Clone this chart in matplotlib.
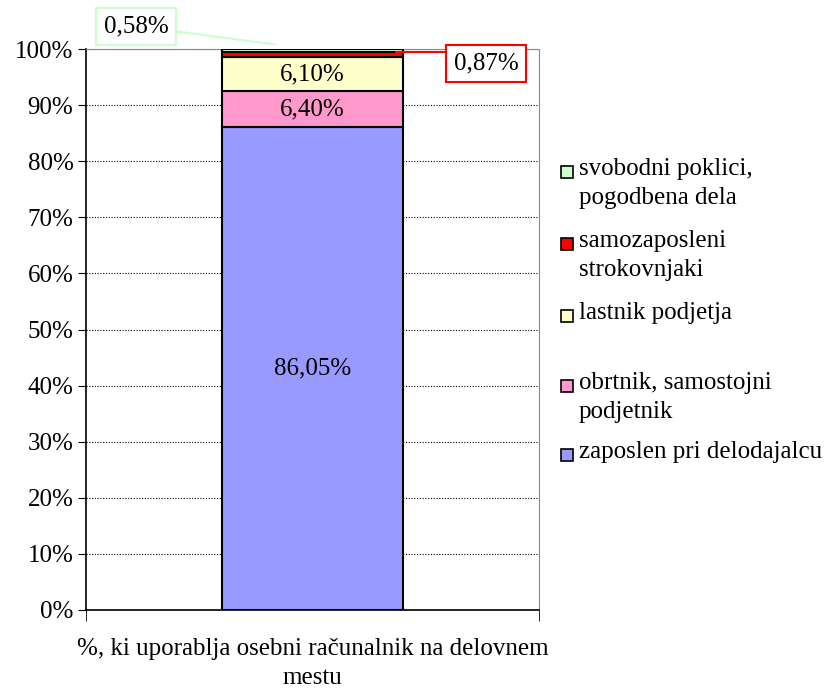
import matplotlib.pyplot as plt
from matplotlib.patches import Rectangle

plt.rcParams['font.family'] = ['Liberation Serif', 'DejaVu Serif']

# data (stack from bottom to top)
categories = ['zaposlen pri delodajalcu', 'obrtnik, samostojni\npodjetnik',
              'lastnik podjetja', 'samozaposleni\nstrokovnjaki',
              'svobodni poklici,\npogodbena dela']
values = [86.05, 6.40, 6.10, 0.87, 0.58]
labels = ['86,05%', '6,40%', '6,10%', '0,87%', '0,58%']
colors = ['#9999FF', '#FF99CC', '#FFFFCC', '#FF0000', '#CCFFCC']
xlabel = '%, ki uporablja osebni računalnik na delovnem\nmestu'

FS = 18
fig = plt.figure(figsize=(8.29, 6.91), dpi=100)
ax = fig.add_axes([86 / 829, 81 / 691, 453 / 829, 561 / 691])

bottom = 0
for v, c in zip(values, colors):
    ax.bar(0, v, width=0.4, bottom=bottom, color=c, edgecolor='black',
           linewidth=1.5, zorder=3)
    bottom += v

# labels inside the big segments
bottom = 0
for i, v in enumerate(values):
    if i < 3:
        ax.text(0, bottom + v / 2, labels[i], ha='center', va='center',
                fontsize=FS, zorder=4)
    bottom += v

ax.set_xlim(-0.5, 0.5)
ax.set_ylim(0, 100)
ax.set_yticks(range(0, 101, 10))
ax.set_yticklabels([f'{t}%' for t in range(0, 101, 10)], fontsize=FS)
ax.yaxis.grid(True, linestyle=(0, (1, 1.5)), color='black', linewidth=0.8, zorder=0)
ax.set_xticks([0])
ax.set_xticklabels([xlabel], fontsize=FS, linespacing=1.45)
ax.tick_params(axis='x', length=0, pad=20)
ax.set_xticks([-0.5, 0.5], minor=True)
ax.tick_params(axis='x', which='minor', length=8, direction='out')
ax.tick_params(axis='y', length=6, direction='out', pad=3)

for s in ['top', 'right']:
    ax.spines[s].set_color('#888888')
for s in ['left', 'bottom']:
    ax.spines[s].set_linewidth(1.2)

# callout for 0,58%
top_58 = sum(values)
ax.annotate(labels[4], xy=(-0.083, top_58 + 0.8), xycoords='data',
            xytext=(136 / 829, 665 / 691), textcoords='figure fraction',
            ha='center', va='center', fontsize=FS,
            bbox=dict(boxstyle='square,pad=0.3', fc='white', ec='#CCFFCC', lw=1.5),
            arrowprops=dict(arrowstyle='-', color='#CCFFCC', lw=1.5, shrinkA=0, shrinkB=0),
            annotation_clip=False)

# callout for 0,87%
y87 = sum(values[:4]) + 0.05
ax.plot([0.185, 0.301], [y87, y87], color='#FF0000', lw=1.5, clip_on=False, zorder=5)
fig.text(486 / 829, 1 - 63 / 691, labels[3], ha='center', va='center', fontsize=FS,
         bbox=dict(boxstyle='square,pad=0.3', fc='white', ec='#FF0000', lw=1.5))

# legend drawn by hand to keep the uneven spacing
leg_y = [169, 241, 313, 383, 452]
for i, yy in zip(range(4, -1, -1), leg_y):
    fig.patches.append(Rectangle((561 / 829, 1 - (yy + 9) / 691), 12 / 829, 12 / 691,
                                 transform=fig.transFigure, fc=colors[i], ec='black', lw=1.2))
    for k, line in enumerate(categories[i].split('\n')):
        fig.text(579 / 829, 1 - (yy + k * 29) / 691, line, ha='left', va='center',
                 fontsize=FS)

fig.savefig('out.png', dpi=100)
